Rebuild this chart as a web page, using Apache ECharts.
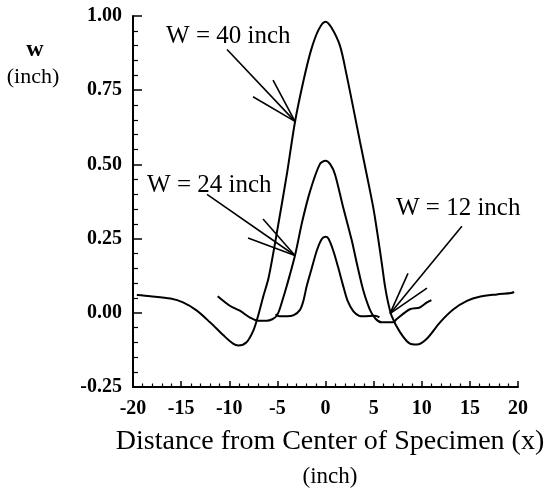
<!DOCTYPE html>
<html><head><meta charset="utf-8">
<script src="https://cdn.jsdelivr.net/npm/echarts@6/dist/echarts.min.js"></script>
<style>html,body{margin:0;padding:0;background:#fff}#c{width:559px;height:493px}</style>
</head><body><div id="c"></div>
<script>
// W = 40 inch specimen
const x40 = [-19.6,-18.2,-16.1,-14.8,-13.4,-12.0,-10.6,-9.6,-9.05,-8.2,-7.5,-7.0,-6.46,-5.9,-5.0,-4.0,-3.17,-2.3,-1.5,-0.7,0,0.6,1.5,2.2,2.9,3.58,4.28,4.96,5.38,5.9,6.18,6.5,6.87,7.74,8.77,9.47,10.5,11.9,13.3,14.7,16.0,17.8,19.3,19.6];
const w40 = [0.06,0.056,0.048,0.035,0.008,-0.032,-0.076,-0.104,-0.11,-0.099,-0.06,-0.01,0.056,0.12,0.28,0.47,0.643,0.78,0.885,0.955,0.981,0.962,0.90,0.80,0.688,0.577,0.466,0.355,0.27,0.155,0.09,0.035,-0.01,-0.065,-0.104,-0.107,-0.088,-0.032,0.012,0.04,0.054,0.062,0.067,0.07];
// W = 24 inch specimen
const x24 = [-11.2,-9.9,-8.9,-7.84,-7.0,-6.1,-5.07,-4.4,-4.03,-3.17,-2.4,-1.6,-0.6,0,0.5,0.99,1.8,2.72,3.3,3.93,4.62,5.2,5.83,7.04,7.4,8.77,9.8,10.5,11.0];
const w24 = [0.056,0.023,0.007,-0.016,-0.027,-0.027,-0.01,0.05,0.09,0.193,0.31,0.41,0.5,0.512,0.5,0.466,0.36,0.245,0.16,0.075,0.01,-0.02,-0.032,-0.032,-0.021,0.012,0.018,0.034,0.043];
// W = 12 inch specimen
const x12 = [-5.2,-4.8,-4.0,-3.3,-2.65,-2.3,-1.95,-1.43,-0.9,-0.4,0,0.3,0.8,1.3,1.8,2.3,2.9,3.5,3.93,5.14,5.6];
const w12 = [-0.005,-0.012,-0.012,-0.008,0.01,0.04,0.09,0.15,0.21,0.248,0.256,0.25,0.21,0.155,0.095,0.04,0.005,-0.01,-0.012,-0.01,-0.015];

const seriesNames = ['W = 40 inch','W = 24 inch','W = 12 inch'];
const xTicks = {min:-20, max:20, interval:5};
const yTicks = {min:-0.25, max:1.0, interval:0.25};

// annotation arrows in data coordinates: label anchor, line start, tip, two barb ends
const annText = [[-16.56,0.930],[-18.54,0.429],[7.32,0.352]];
const annStart = [[-10.23,0.887],[-12.31,0.399],[14.17,0.292]];
const annTip = [[-3.17,0.645],[-3.17,0.193],[6.70,-0.003]];
const annBarbA = [[-7.53,0.728],[-8.05,0.252],[8.57,0.133]];
const annBarbB = [[-5.45,0.784],[-6.49,0.316],[10.54,0.083]];

const FONT = '"Liberation Serif","Times New Roman",serif';
const pairs = (xs, ys) => xs.map((x,i)=>[x, ys[i]]);

const lineSegs = [];
annTip.forEach((tip,i)=>{
  lineSegs.push([{coord:annStart[i]},{coord:tip}]);
  lineSegs.push([{coord:annBarbA[i]},{coord:tip}]);
  lineSegs.push([{coord:annBarbB[i]},{coord:tip}]);
});
const textPts = annText.map((p,i)=>({coord:p, name:seriesNames[i], value:0}));

const curve = (xs, ys, name) => ({
  type:'line', name, data:pairs(xs,ys), showSymbol:false, smooth:0.3,
  lineStyle:{color:'#000', width:2}, silent:true
});

const chart = echarts.init(document.getElementById('c'), null, {renderer:'canvas'});
chart.setOption({
  animation:false,
  backgroundColor:'#fff',
  grid:{left:133, right:41, top:16, bottom:101},
  xAxis:{
    type:'value', min:xTicks.min, max:xTicks.max, interval:xTicks.interval,
    axisLine:{onZero:false, lineStyle:{color:'#000', width:2}},
    axisTick:{inside:true, length:6, lineStyle:{color:'#000', width:1.5}},
    minorTick:{show:true, splitNumber:5, length:3.5, lineStyle:{color:'#000', width:1.2}},
    splitLine:{show:false},
    axisLabel:{color:'#000', fontSize:20, fontWeight:'bold', fontFamily:FONT, margin:12},
    name:'{a|Distance from Center of Specimen (x)}\n{b|(inch)}',
    nameLocation:'middle', nameGap:38,
    nameTextStyle:{padding:[0,0,0,9], rich:{
      a:{fontSize:28, fontFamily:FONT, color:'#000', lineHeight:33, align:'center'},
      b:{fontSize:23, fontFamily:FONT, color:'#000', lineHeight:37, align:'center'}
    }}
  },
  yAxis:{
    type:'value', min:yTicks.min, max:yTicks.max, interval:yTicks.interval,
    axisLine:{show:true, onZero:false, lineStyle:{color:'#000', width:2}},
    axisTick:{show:true, inside:true, length:9, lineStyle:{color:'#000', width:1.5}},
    minorTick:{show:true, splitNumber:5, length:5, lineStyle:{color:'#000', width:1.2}},
    splitLine:{show:false},
    axisLabel:{color:'#000', fontSize:20, fontWeight:'bold', fontFamily:FONT, margin:11, formatter:v=>v.toFixed(2)}
  },
  graphic:[
    {type:'text', style:{text:'w', x:35, y:50, align:'center', verticalAlign:'middle', font:'bold 24px '+FONT, fill:'#000'}},
    {type:'text', style:{text:'(inch)', x:33, y:77, align:'center', verticalAlign:'middle', font:'22px '+FONT, fill:'#000'}}
  ],
  series:[
    curve(x40,w40,seriesNames[0]),
    curve(x24,w24,seriesNames[1]),
    curve(x12,w12,seriesNames[2]),
    {type:'line', data:[], silent:true,
     markLine:{silent:true, symbol:['none','none'], animation:false,
       lineStyle:{color:'#000', width:1.6, type:'solid'}, label:{show:false},
       emphasis:{disabled:true}, data:lineSegs},
     markPoint:{silent:true, symbol:'circle', symbolSize:0, animation:false,
       label:{show:true, position:'right', distance:0, formatter:'{b}', color:'#000', fontSize:25, fontFamily:FONT},
       data:textPts}
    }
  ]
});
</script></body></html>
